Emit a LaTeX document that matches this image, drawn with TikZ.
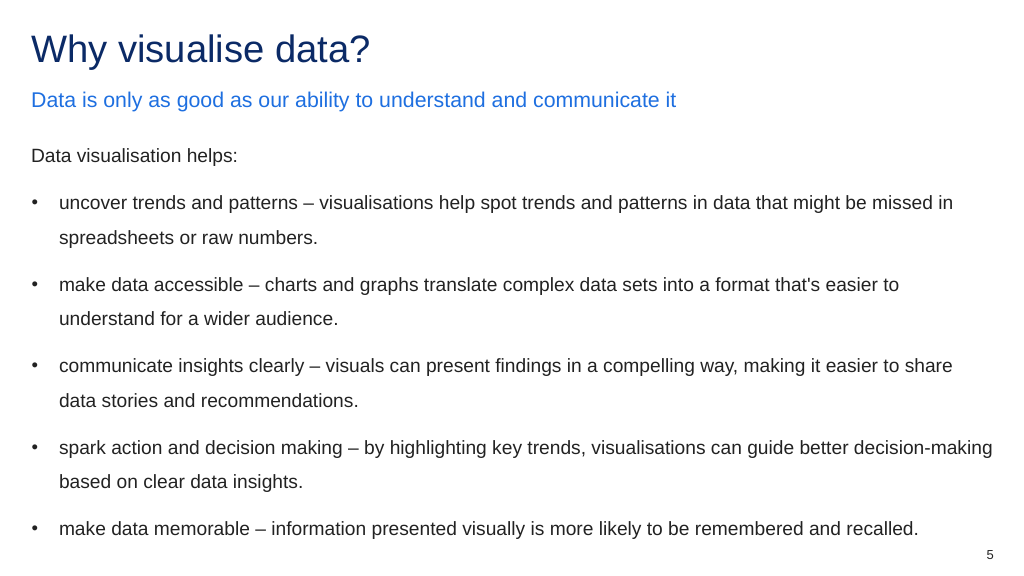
\documentclass[tikz,border=0pt]{standalone}
\usepackage{fontspec}
\setmainfont{Liberation Sans}
\definecolor{titlecol}{HTML}{0B2A66}
\definecolor{subcol}{HTML}{1E6FE0}
\definecolor{bodycol}{HTML}{222222}
\tikzset{
  txt/.style={anchor=base west, inner sep=0pt, outer sep=0pt, text=bodycol, font=\fontsize{19.2}{19.2}\selectfont},
  titletxt/.style={anchor=base west, inner sep=0pt, text=titlecol, font=\fontsize{38.2}{38.2}\selectfont},
  subtxt/.style={anchor=base west, inner sep=0pt, text=subcol, font=\fontsize{21.3}{21.3}\selectfont},
  bul/.style={anchor=base west, inner sep=0pt, text=bodycol, font=\fontsize{18.5}{18.5}\selectfont},
  pagenum/.style={anchor=base east, inner sep=0pt, text=bodycol, font=\fontsize{13}{13}\selectfont}
}
\begin{document}
\begin{tikzpicture}[x=1pt,y=-1pt]
\useasboundingbox[fill=white] (0,0) rectangle (1024,575);
\node[titletxt] (title) at (31,63) {Why visualise data?};
\node[subtxt] (sub) at (31,108) {Data is only as good as our ability to understand and communicate it};
\node[txt] (intro) at (31,162) {Data visualisation helps:};
\foreach \y/\n in {209/b1,291/b2,372/b3,454/b4,535/b5} {
  \node[bul] (\n) at (31.5,\y-1) {\textbullet};
}
\node[txt] (l1a) at (59,209) {uncover trends and patterns – visualisations help spot trends and patterns in data that might be missed in};
\node[txt] (l1b) at (59,244) {spreadsheets or raw numbers.};
\node[txt] (l2a) at (59,291) {make data accessible – charts and graphs translate complex data sets into a format that\textquotesingle s easier to};
\node[txt] (l2b) at (59,325) {understand for a wider audience.};
\node[txt] (l3a) at (59,372) {communicate insights clearly – visuals can present findings in a compelling way, making it easier to share};
\node[txt] (l3b) at (59,407) {data stories and recommendations.};
\node[txt] (l4a) at (59,454) {spark action and decision making – by highlighting key trends, visualisations can guide better decision-making};
\node[txt] (l4b) at (59,488) {based on clear data insights.};
\node[txt] (l5a) at (59,535) {make data memorable – information presented visually is more likely to be remembered and recalled.};
\node[pagenum] (pg) at (994,559) {5};
\end{tikzpicture}
\end{document}
